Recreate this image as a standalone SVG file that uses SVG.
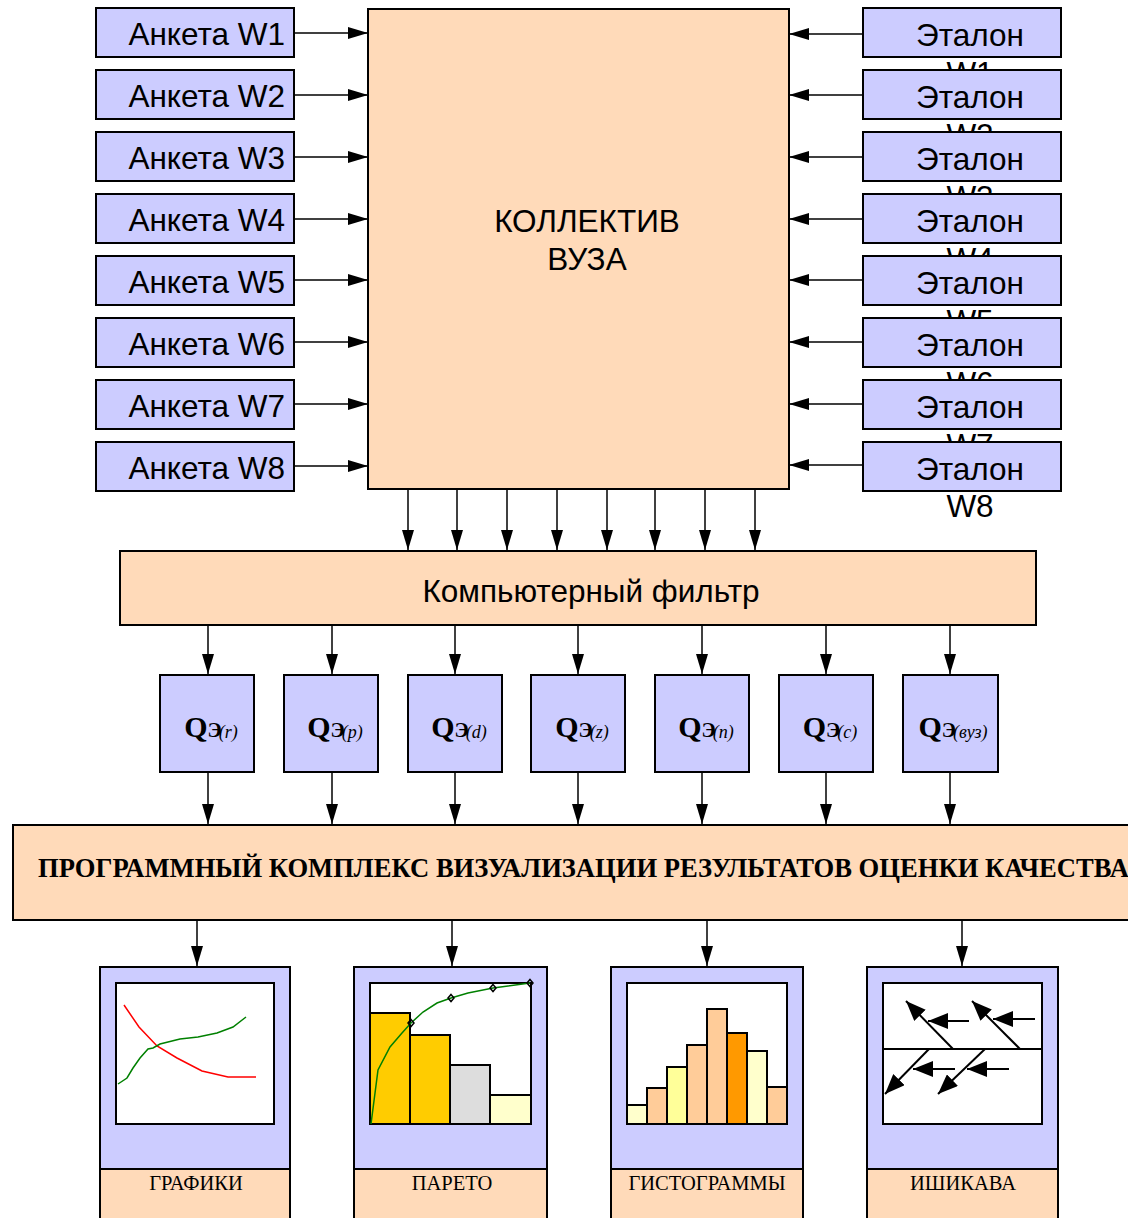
<svg xmlns="http://www.w3.org/2000/svg" width="1128" height="1218" viewBox="0 0 1128 1218">
  <style>
    .lav { fill: #CCCCFF; stroke: #000; stroke-width: 2; }
    .peach { fill: #FFDAB9; stroke: #000; stroke-width: 2; }
    .white { fill: #FFFFFF; stroke: #000; stroke-width: 2; }
    .sans { font-family: "Liberation Sans", Arial, sans-serif; font-size: 31.5px; fill: #000; }
    .qb { font-family: "Liberation Serif", "Times New Roman", serif; font-weight: bold; font-size: 30px; }
    .qe { font-family: "Liberation Serif", "Times New Roman", serif; font-weight: bold; font-size: 21px; }
    .qs { font-family: "Liberation Serif", "Times New Roman", serif; font-style: italic; font-size: 18px; }
    .cap { font-family: "Liberation Serif", "Times New Roman", serif; font-size: 20.5px; fill: #000; text-anchor: middle; }
    .big { font-family: "Liberation Serif", "Times New Roman", serif; font-weight: bold; font-size: 26.6px; fill: #000; }
    .conn line { stroke: #000; stroke-width: 1.5; marker-end: url(#ah); }
    .bar { stroke: #000; stroke-width: 2; }
    .fish line { stroke: #000; stroke-width: 2; }
    .fish .arr { marker-end: url(#fh); }
  </style>
  <defs>
    <marker id="ah" viewBox="0 0 20 12" refX="20" refY="6" markerWidth="20" markerHeight="12" markerUnits="userSpaceOnUse" orient="auto">
      <path d="M0,0 L20,6 L0,12 z" fill="#000"/>
    </marker>
    <marker id="fh" viewBox="0 0 20 16" refX="20" refY="8" markerWidth="20" markerHeight="16" markerUnits="userSpaceOnUse" orient="auto">
      <path d="M0,0 L20,8 L0,16 z" fill="#000"/>
    </marker>
    <path id="dm" d="M0,-3.5 L3,0 L0,3.5 L-3,0 z" fill="none" stroke="#000" stroke-width="1.5"/>
  </defs>

  <!-- central block -->
  <g id="kollektiv">
    <rect class="peach" x="368" y="9" width="421" height="480"/>
    <text class="sans" x="587" y="232" text-anchor="middle">КОЛЛЕКТИВ</text>
    <text class="sans" x="587" y="270" text-anchor="middle">ВУЗА</text>
  </g>

  <!-- questionnaires -->
  <g id="anketa-w1"><rect class="lav" x="96" y="8" width="198" height="49"/><text class="sans" x="285" y="45" text-anchor="end">Анкета W1</text></g>
  <g id="anketa-w2"><rect class="lav" x="96" y="70" width="198" height="49"/><text class="sans" x="285" y="107" text-anchor="end">Анкета W2</text></g>
  <g id="anketa-w3"><rect class="lav" x="96" y="132" width="198" height="49"/><text class="sans" x="285" y="169" text-anchor="end">Анкета W3</text></g>
  <g id="anketa-w4"><rect class="lav" x="96" y="194" width="198" height="49"/><text class="sans" x="285" y="231" text-anchor="end">Анкета W4</text></g>
  <g id="anketa-w5"><rect class="lav" x="96" y="256" width="198" height="49"/><text class="sans" x="285" y="293" text-anchor="end">Анкета W5</text></g>
  <g id="anketa-w6"><rect class="lav" x="96" y="318" width="198" height="49"/><text class="sans" x="285" y="355" text-anchor="end">Анкета W6</text></g>
  <g id="anketa-w7"><rect class="lav" x="96" y="380" width="198" height="49"/><text class="sans" x="285" y="417" text-anchor="end">Анкета W7</text></g>
  <g id="anketa-w8"><rect class="lav" x="96" y="442" width="198" height="49"/><text class="sans" x="285" y="479" text-anchor="end">Анкета W8</text></g>

  <!-- standards: each label wraps onto a second line that the next box overlaps -->
  <g id="etalon-w1"><rect class="lav" x="863" y="8" width="198" height="49"/><text class="sans" x="970" y="46" text-anchor="middle">Эталон</text><text class="sans" x="970" y="84" text-anchor="middle">W1</text></g>
  <g id="etalon-w2"><rect class="lav" x="863" y="70" width="198" height="49"/><text class="sans" x="970" y="108" text-anchor="middle">Эталон</text><text class="sans" x="970" y="146" text-anchor="middle">W2</text></g>
  <g id="etalon-w3"><rect class="lav" x="863" y="132" width="198" height="49"/><text class="sans" x="970" y="170" text-anchor="middle">Эталон</text><text class="sans" x="970" y="208" text-anchor="middle">W3</text></g>
  <g id="etalon-w4"><rect class="lav" x="863" y="194" width="198" height="49"/><text class="sans" x="970" y="232" text-anchor="middle">Эталон</text><text class="sans" x="970" y="270" text-anchor="middle">W4</text></g>
  <g id="etalon-w5"><rect class="lav" x="863" y="256" width="198" height="49"/><text class="sans" x="970" y="294" text-anchor="middle">Эталон</text><text class="sans" x="970" y="332" text-anchor="middle">W5</text></g>
  <g id="etalon-w6"><rect class="lav" x="863" y="318" width="198" height="49"/><text class="sans" x="970" y="356" text-anchor="middle">Эталон</text><text class="sans" x="970" y="394" text-anchor="middle">W6</text></g>
  <g id="etalon-w7"><rect class="lav" x="863" y="380" width="198" height="49"/><text class="sans" x="970" y="418" text-anchor="middle">Эталон</text><text class="sans" x="970" y="456" text-anchor="middle">W7</text></g>
  <g id="etalon-w8"><rect class="lav" x="863" y="442" width="198" height="49"/><text class="sans" x="970" y="480" text-anchor="middle">Эталон</text><text class="sans" x="970" y="517" text-anchor="middle">W8</text></g>

  <!-- filter -->
  <g id="filter">
    <rect class="peach" x="120" y="551" width="916" height="74"/>
    <text class="sans" x="591" y="602" text-anchor="middle">Компьютерный фильтр</text>
  </g>

  <!-- quality indicators -->
  <g id="q-r"><rect class="lav" x="160" y="675" width="94" height="97"/><text x="211" y="737" text-anchor="middle"><tspan class="qb">Q</tspan><tspan class="qe">Э</tspan><tspan class="qs" dx="-3" dy="1">(r)</tspan></text></g>
  <g id="q-p"><rect class="lav" x="284" y="675" width="94" height="97"/><text x="335" y="737" text-anchor="middle"><tspan class="qb">Q</tspan><tspan class="qe">Э</tspan><tspan class="qs" dx="-3" dy="1">(p)</tspan></text></g>
  <g id="q-d"><rect class="lav" x="408" y="675" width="94" height="97"/><text x="459" y="737" text-anchor="middle"><tspan class="qb">Q</tspan><tspan class="qe">Э</tspan><tspan class="qs" dx="-3" dy="1">(d)</tspan></text></g>
  <g id="q-z"><rect class="lav" x="531" y="675" width="94" height="97"/><text x="582" y="737" text-anchor="middle"><tspan class="qb">Q</tspan><tspan class="qe">Э</tspan><tspan class="qs" dx="-3" dy="1">(z)</tspan></text></g>
  <g id="q-n"><rect class="lav" x="655" y="675" width="94" height="97"/><text x="706" y="737" text-anchor="middle"><tspan class="qb">Q</tspan><tspan class="qe">Э</tspan><tspan class="qs" dx="-3" dy="1">(n)</tspan></text></g>
  <g id="q-c"><rect class="lav" x="779" y="675" width="94" height="97"/><text x="830" y="737" text-anchor="middle"><tspan class="qb">Q</tspan><tspan class="qe">Э</tspan><tspan class="qs" dx="-3" dy="1">(c)</tspan></text></g>
  <g id="q-vuz"><rect class="lav" x="903" y="675" width="95" height="97"/><text x="953" y="737" text-anchor="middle"><tspan class="qb">Q</tspan><tspan class="qe">Э</tspan><tspan class="qs" dx="-3" dy="1">(вуз)</tspan></text></g>

  <!-- visualisation software -->
  <g id="complex">
    <rect class="peach" x="13" y="825" width="1130" height="95"/>
    <text class="big" x="38" y="877">ПРОГРАММНЫЙ КОМПЛЕКС ВИЗУАЛИЗАЦИИ РЕЗУЛЬТАТОВ ОЦЕНКИ КАЧЕСТВА</text>
  </g>

  <!-- line charts -->
  <g id="grafiki">
    <rect class="lav" x="100" y="967" width="190" height="202"/>
    <rect class="peach" x="100" y="1169" width="190" height="60"/>
    <rect class="white" x="116" y="983" width="158" height="141"/>
    <polyline fill="none" stroke="#FF0000" stroke-width="1.5" points="124,1005 139,1027 157,1046 177,1058 202,1071 228,1077 256,1077"/>
    <polyline fill="none" stroke="#008000" stroke-width="1.5" points="118,1084 127,1078 133,1068 140,1058 148,1049 153,1048 160,1044 180,1039 198,1037 217,1033 233,1027 246,1017"/>
    <text class="cap" x="196" y="1190">ГРАФИКИ</text>
  </g>

  <!-- Pareto chart -->
  <g id="pareto">
    <rect class="lav" x="354" y="967" width="193" height="202"/>
    <rect class="peach" x="354" y="1169" width="193" height="60"/>
    <rect class="white" x="370" y="983" width="161" height="141"/>
    <rect class="bar" fill="#FFCC00" x="370" y="1013" width="40" height="111"/>
    <rect class="bar" fill="#FFCC00" x="410" y="1035" width="40" height="89"/>
    <rect class="bar" fill="#DDDDDD" x="450" y="1065" width="40" height="59"/>
    <rect class="bar" fill="#FFFFCC" x="490" y="1095" width="41" height="29"/>
    <polyline fill="none" stroke="#008000" stroke-width="1.5" points="371,1124 378,1070 390,1047 402,1033 411,1023 423,1012 437,1003 451,998 468,993 493,988 530,983"/>
    <use href="#dm" x="411" y="1023"/>
    <use href="#dm" x="451" y="998"/>
    <use href="#dm" x="493" y="988"/>
    <use href="#dm" x="530" y="983"/>
    <text class="cap" x="452" y="1190">ПАРЕТО</text>
  </g>

  <!-- histogram -->
  <g id="gistogrammy">
    <rect class="lav" x="611" y="967" width="192" height="202"/>
    <rect class="peach" x="611" y="1169" width="192" height="60"/>
    <rect class="white" x="627" y="983" width="160" height="141"/>
    <rect class="bar" fill="#FFFFCC" x="627" y="1105" width="20" height="19"/>
    <rect class="bar" fill="#FFCC99" x="647" y="1088" width="20" height="36"/>
    <rect class="bar" fill="#FFFF99" x="667" y="1067" width="20" height="57"/>
    <rect class="bar" fill="#FFCC99" x="687" y="1045" width="20" height="79"/>
    <rect class="bar" fill="#FFCC99" x="707" y="1009" width="20" height="115"/>
    <rect class="bar" fill="#FF9900" x="727" y="1033" width="20" height="91"/>
    <rect class="bar" fill="#FFFFCC" x="747" y="1051" width="20" height="73"/>
    <rect class="bar" fill="#FFCC99" x="767" y="1087" width="20" height="37"/>
    <text class="cap" x="707" y="1190">ГИСТОГРАММЫ</text>
  </g>

  <!-- cause and effect diagram -->
  <g id="ishikava">
    <rect class="lav" x="867" y="967" width="191" height="202"/>
    <rect class="peach" x="867" y="1169" width="191" height="60"/>
    <rect class="white" x="883" y="983" width="159" height="141"/>
    <g class="fish">
      <line x1="883" y1="1049" x2="1042" y2="1049"/>
      <line class="arr" x1="953" y1="1049" x2="906" y2="1001"/>
      <line class="arr" x1="1020" y1="1049" x2="972" y2="1001"/>
      <line class="arr" x1="929" y1="1049" x2="885" y2="1094"/>
      <line class="arr" x1="985" y1="1049" x2="938" y2="1094"/>
      <line class="arr" x1="969" y1="1021" x2="928" y2="1021"/>
      <line class="arr" x1="1035" y1="1019" x2="993" y2="1019"/>
      <line class="arr" x1="955" y1="1069" x2="913" y2="1069"/>
      <line class="arr" x1="1009" y1="1069" x2="967" y2="1069"/>
    </g>
    <text class="cap" x="963" y="1190">ИШИКАВА</text>
  </g>

  <!-- connectors -->
  <g id="connectors">
    <g class="conn">
      <line x1="294" y1="33" x2="368" y2="33"/>
      <line x1="294" y1="95" x2="368" y2="95"/>
      <line x1="294" y1="157" x2="368" y2="157"/>
      <line x1="294" y1="219" x2="368" y2="219"/>
      <line x1="294" y1="280" x2="368" y2="280"/>
      <line x1="294" y1="342" x2="368" y2="342"/>
      <line x1="294" y1="404" x2="368" y2="404"/>
      <line x1="294" y1="466" x2="368" y2="466"/>

      <line x1="863" y1="34" x2="789" y2="34"/>
      <line x1="863" y1="95" x2="789" y2="95"/>
      <line x1="863" y1="157" x2="789" y2="157"/>
      <line x1="863" y1="219" x2="789" y2="219"/>
      <line x1="863" y1="280" x2="789" y2="280"/>
      <line x1="863" y1="342" x2="789" y2="342"/>
      <line x1="863" y1="404" x2="789" y2="404"/>
      <line x1="863" y1="465" x2="789" y2="465"/>

      <line x1="408" y1="489" x2="408" y2="550"/>
      <line x1="457" y1="489" x2="457" y2="550"/>
      <line x1="507" y1="489" x2="507" y2="550"/>
      <line x1="557" y1="489" x2="557" y2="550"/>
      <line x1="607" y1="489" x2="607" y2="550"/>
      <line x1="655" y1="489" x2="655" y2="550"/>
      <line x1="705" y1="489" x2="705" y2="550"/>
      <line x1="755" y1="489" x2="755" y2="550"/>

      <line x1="208" y1="625" x2="208" y2="674"/>
      <line x1="332" y1="625" x2="332" y2="674"/>
      <line x1="455" y1="625" x2="455" y2="674"/>
      <line x1="578" y1="625" x2="578" y2="674"/>
      <line x1="702" y1="625" x2="702" y2="674"/>
      <line x1="826" y1="625" x2="826" y2="674"/>
      <line x1="950" y1="625" x2="950" y2="674"/>

      <line x1="208" y1="772" x2="208" y2="824"/>
      <line x1="332" y1="772" x2="332" y2="824"/>
      <line x1="455" y1="772" x2="455" y2="824"/>
      <line x1="578" y1="772" x2="578" y2="824"/>
      <line x1="702" y1="772" x2="702" y2="824"/>
      <line x1="826" y1="772" x2="826" y2="824"/>
      <line x1="950" y1="772" x2="950" y2="824"/>

      <line x1="197" y1="920" x2="197" y2="966"/>
      <line x1="452" y1="920" x2="452" y2="966"/>
      <line x1="707" y1="920" x2="707" y2="966"/>
      <line x1="962" y1="920" x2="962" y2="966"/>
    </g>
  </g>
</svg>
